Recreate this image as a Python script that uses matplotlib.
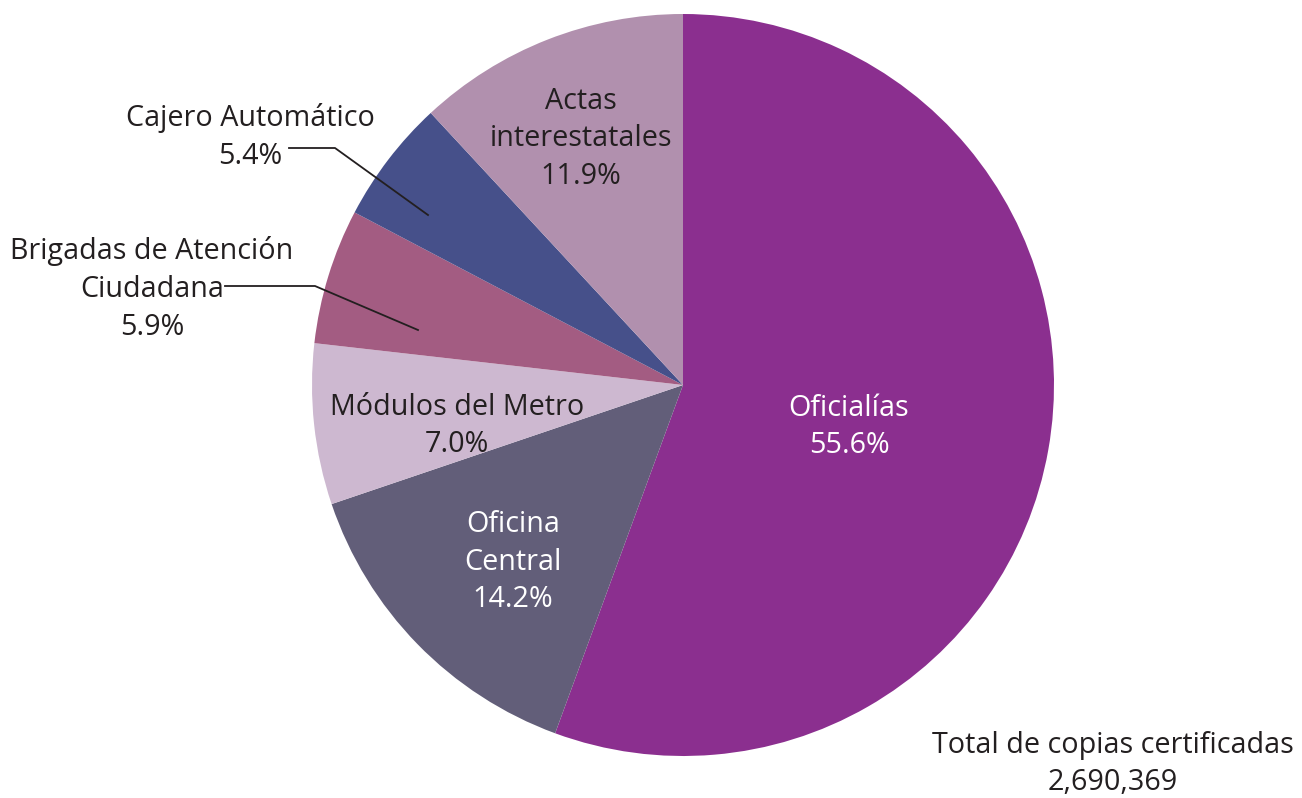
import matplotlib
matplotlib.use('Agg')
import matplotlib.pyplot as plt

categories = ['Oficialías', 'Oficina\nCentral', 'Módulos del Metro',
              'Brigadas de Atención\nCiudadana', 'Cajero Automático',
              'Actas\ninterestatales']
shares     = [55.6, 14.2, 7.0, 5.9, 5.4, 11.9]
colors     = ['#8B2F8F', '#625E79', '#CDB8D0', '#A35C82', '#46508A', '#B190AE']
total_lbl  = 'Total de copias certificadas\n2,690,369'

plt.rcParams['font.family'] = ['Open Sans', 'DejaVu Sans']
dark = '#231F20'

W, H = 1302, 798
fig = plt.figure(figsize=(W / 100, H / 100), dpi=100)
ax  = fig.add_axes([0, 0, 1, 1])

cx, cy, r = 683, H - 385, 371
ax.pie(shares, colors=colors, startangle=90, counterclock=False,
       center=(cx, cy), radius=r, frame=True,
       wedgeprops={'linewidth': 0})
ax.set_xlim(0, W)
ax.set_ylim(0, H)
ax.set_aspect('equal')
ax.axis('off')


def lab(i):
    return f'{categories[i]}\n{shares[i]:.1f}%'


fs = 20.7
ls = 1.4
# inside labels
ax.text(849, H - 427, lab(0), ha='center', va='center', fontsize=fs,
        color='white', linespacing=ls)
ax.text(513, H - 562, lab(1), ha='center', va='center', fontsize=fs,
        color='white', linespacing=ls)
ax.text(457, H - 426, lab(2), ha='center', va='center', fontsize=fs,
        color=dark, linespacing=ls)
ax.text(581, H - 139, lab(5), ha='center', va='center', fontsize=fs,
        color=dark, linespacing=ls)

# outside labels with leader lines
ax.text(250, H - 137, lab(4), ha='center', va='center', fontsize=fs,
        color=dark, linespacing=ls)
ax.plot([289, 335, 428], [H - 148, H - 148, H - 215], color=dark, lw=1.3)

ax.text(152, H - 289, lab(3), ha='center', va='center', fontsize=fs,
        color=dark, linespacing=ls)
ax.plot([225, 315, 418], [H - 286, H - 286, H - 330], color=dark, lw=1.3)

ax.text(1113, H - 764, total_lbl, ha='center', va='center', fontsize=fs,
        color=dark, linespacing=ls)

fig.savefig('out.png', dpi=100)
